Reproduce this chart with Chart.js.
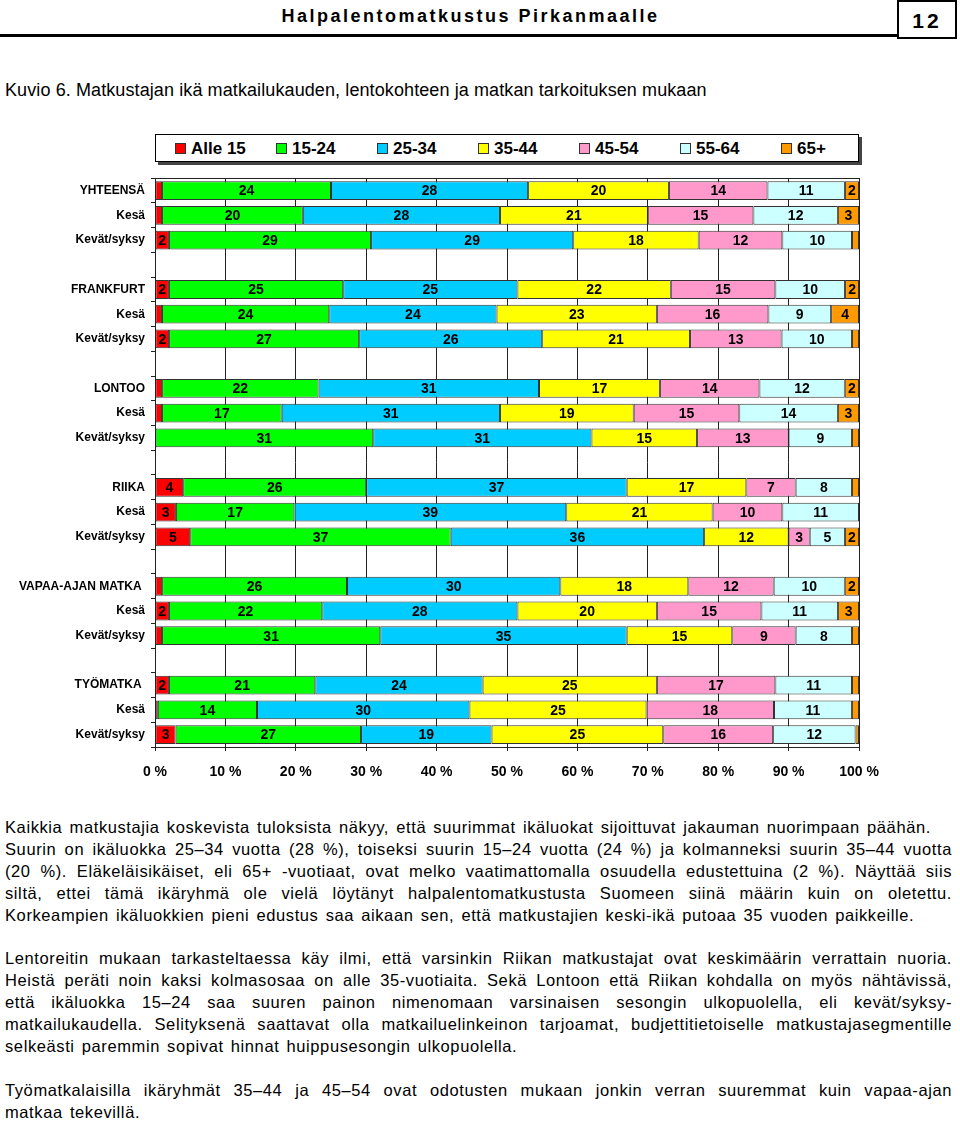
<!DOCTYPE html>
<html lang="fi">
<head>
<meta charset="utf-8">
<title>Kuvio 6</title>
<script src="https://cdn.jsdelivr.net/npm/chart.js@4/dist/chart.umd.min.js"></script>
<style>
  body { margin: 0; width: 960px; height: 1122px; position: relative; overflow: hidden;
         background: #fff; color: #000; font-family: "Liberation Sans", Arial, sans-serif; }
  .head { position: absolute; left: 0; top: 0; width: 853px; padding-left: 44px; height: 34px; border-bottom: 3px solid #000;
          text-align: center; font-weight: bold; font-size: 18px; letter-spacing: 2.5px; line-height: 32px; }
  .pageno { position: absolute; left: 897px; top: 0; width: 56px; height: 35px; border: 2px solid #000;
            text-align: center; font-weight: bold; font-size: 21px; letter-spacing: 3px; line-height: 38px; }
  .caption { position: absolute; left: 5px; top: 80px; font-size: 18px; letter-spacing: 0.1px; line-height: 20px; white-space: nowrap; }
  .legend { position: absolute; left: 155px; top: 134px; width: 702px; height: 26px; border: 1px solid #000;
            box-shadow: 3px 3px 0 #444; background: #fff; }
  .legend .item { position: absolute; top: 0; height: 26px; line-height: 27px; font-weight: bold; font-size: 17px; white-space: nowrap; }
  .legend .sw { display: inline-block; width: 9px; height: 9px; border: 1px solid #333; margin-right: 5px; vertical-align: 0px; }
  .chartbox { position: absolute; left: 0; top: 165px; width: 960px; height: 625px; }
  .text { position: absolute; left: 5px; top: 817px; width: 947px; font-size: 16.5px; line-height: 21.9px;
          letter-spacing: 0.6px; word-spacing: 2px; }
  .text div { white-space: nowrap; }
  .text .j { text-align: justify; text-align-last: justify; white-space: normal; }
</style>
</head>
<body>
<div class="head">Halpalentomatkustus Pirkanmaalle</div>
<div class="pageno">12</div>
<div class="caption">Kuvio 6. Matkustajan ikä matkailukauden, lentokohteen ja matkan tarkoituksen mukaan</div>
<div class="legend" id="legend"></div>
<div class="chartbox"><canvas id="chart"></canvas></div>
<div class="text">
  <div>Kaikkia matkustajia koskevista tuloksista näkyy, että suurimmat ikäluokat sijoittuvat jakauman nuorimpaan päähän.</div>
  <div class="j">Suurin on ikäluokka 25–34 vuotta (28 %), toiseksi suurin 15–24 vuotta (24 %) ja kolmanneksi suurin 35–44 vuotta</div>
  <div class="j">(20 %). Eläkeläisikäiset, eli 65+ -vuotiaat, ovat melko vaatimattomalla osuudella edustettuina (2 %). Näyttää siis</div>
  <div class="j">siltä, ettei tämä ikäryhmä ole vielä löytänyt halpalentomatkustusta Suomeen siinä määrin kuin on oletettu.</div>
  <div>Korkeampien ikäluokkien pieni edustus saa aikaan sen, että matkustajien keski-ikä putoaa 35 vuoden paikkeille.</div>
  <div>&nbsp;</div>
  <div class="j">Lentoreitin mukaan tarkasteltaessa käy ilmi, että varsinkin Riikan matkustajat ovat keskimäärin verrattain nuoria.</div>
  <div class="j">Heistä peräti noin kaksi kolmasosaa on alle 35-vuotiaita. Sekä Lontoon että Riikan kohdalla on myös nähtävissä,</div>
  <div class="j">että ikäluokka 15–24 saa suuren painon nimenomaan varsinaisen sesongin ulkopuolella, eli kevät/syksy-</div>
  <div class="j">matkailukaudella. Selityksenä saattavat olla matkailuelinkeinon tarjoamat, budjettitietoiselle matkustajasegmentille</div>
  <div>selkeästi paremmin sopivat hinnat huippusesongin ulkopuolella.</div>
  <div>&nbsp;</div>
  <div class="j">Työmatkalaisilla ikäryhmät 35–44 ja 45–54 ovat odotusten mukaan jonkin verran suuremmat kuin vapaa-ajan</div>
  <div>matkaa tekevillä.</div>
</div>
<script>
// ===== data =====
const ageGroups = ['Alle 15', '15-24', '25-34', '35-44', '45-54', '55-64', '65+'];
const ageColors = ['#FF0000', '#00FF00', '#00CCFF', '#FFFF00', '#FF99CC', '#CCFFFF', '#FF9900'];
const groups = ['YHTEENSÄ', 'FRANKFURT', 'LONTOO', 'RIIKA', 'VAPAA-AJAN MATKA ', 'TYÖMATKA '];
const seasons = ['Kesä', 'Kevät/syksy'];
const xTickLabels = ['0 %', '10 %', '20 %', '30 %', '40 %', '50 %', '60 %', '70 %', '80 %', '90 %', '100 %'];

// rows: group total, Kesä, Kevät/syksy — for each group in order
const alle15  = [1, 1, 2,    2, 1, 2,    1, 1, 0,    4, 3, 5,    1, 2, 1,    2, 0.4, 3];
const age1524 = [24, 20, 29, 25, 24, 27, 22, 17, 31, 26, 17, 37, 26, 22, 31, 21, 14, 27];
const age2534 = [28, 28, 29, 25, 24, 26, 31, 31, 31, 37, 39, 36, 30, 28, 35, 24, 30, 19];
const age3544 = [20, 21, 18, 22, 23, 21, 17, 19, 15, 17, 21, 12, 18, 20, 15, 25, 25, 25];
const age4554 = [14, 15, 12, 15, 16, 13, 14, 15, 13, 7, 10, 3,   12, 15, 9,  17, 18, 16];
const age5564 = [11, 12, 10, 10, 9, 10,  12, 14, 9,  8, 11, 5,   10, 11, 8,  11, 11, 12];
const age65   = [2, 3, 1,    2, 4, 1,    2, 3, 1,    1, 0, 2,    2, 3, 1,    1, 1, 0.5];

const series = [alle15, age1524, age2534, age3544, age4554, age5564, age65];

// category labels with an empty row between the groups
const labels = [];
const rowIndex = [];
groups.forEach((g, gi) => {
  if (gi > 0) { labels.push(''); rowIndex.push(null); }
  [g, ...seasons].forEach((name, k) => { labels.push(name); rowIndex.push(gi * 3 + k); });
});

const rowTotals = alle15.map((_, r) => series.reduce((acc, s) => acc + s[r], 0));

// ===== html legend =====
const legendEl = document.getElementById('legend');
ageGroups.forEach((name, i) => {
  const item = document.createElement('div');
  item.className = 'item';
  item.style.left = (19 + i * 101) + 'px';
  item.innerHTML = '<span class="sw" style="background:' + ageColors[i] + '"></span>' + name;
  legendEl.appendChild(item);
});

// ===== plugins =====
const barLabels = {
  id: 'barLabels',
  afterDatasetsDraw(chart) {
    const ctx = chart.ctx;
    ctx.save();
    ctx.font = 'bold 14px "Liberation Sans", Arial, sans-serif';
    ctx.fillStyle = '#000';
    ctx.textAlign = 'center';
    ctx.textBaseline = 'middle';
    chart.data.datasets.forEach((ds, i) => {
      chart.getDatasetMeta(i).data.forEach((bar, j) => {
        const v = ds.values[j];
        if (v == null || v < 2) return;
        ctx.fillText(String(v), (bar.x + bar.base) / 2, bar.y + 1);
      });
    });
    ctx.restore();
  }
};

const plotFrame = {
  id: 'plotFrame',
  afterDatasetsDraw(chart) {
    const a = chart.chartArea;
    const ctx = chart.ctx;
    ctx.save();
    ctx.strokeStyle = '#222';
    ctx.lineWidth = 1;
    ctx.strokeRect(Math.round(a.left) + 0.5, Math.round(a.top) + 0.5, Math.round(a.right - a.left), Math.round(a.bottom - a.top));
    ctx.restore();
  }
};

// ===== chart =====
new Chart(document.getElementById('chart'), {
  type: 'bar',
  data: {
    labels: labels,
    datasets: series.map((s, i) => ({
      label: ageGroups[i],
      values: rowIndex.map(r => r == null ? null : s[r]),
      data: rowIndex.map(r => r == null ? null : s[r] / rowTotals[r] * 100),
      backgroundColor: ageColors[i],
      borderColor: '#333',
      borderWidth: 1,
      borderSkipped: false,
      barPercentage: 0.76,
      categoryPercentage: 1
    }))
  },
  options: {
    indexAxis: 'y',
    responsive: true,
    maintainAspectRatio: false,
    animation: false,
    layout: { padding: { top: 9, right: 101, left: 0, bottom: 0 } },
    plugins: {
      legend: { display: false },
      tooltip: { enabled: false }
    },
    scales: {
      x: {
        stacked: true,
        min: 0,
        max: 100,
        afterFit(scale) { scale.height = 43; },
        ticks: {
          stepSize: 10,
          color: '#000',
          padding: 13,
          font: { family: '"Liberation Sans", Arial, sans-serif', size: 14, weight: 'bold' },
          callback: (v, i) => xTickLabels[i]
        },
        grid: { color: '#222', lineWidth: 1, tickLength: 4 },
        border: { display: true, color: '#222' }
      },
      y: {
        stacked: true,
        afterFit(scale) { scale.width = 155; },
        ticks: {
          color: '#000',
          padding: 6,
          autoSkip: false,
          font: { family: '"Liberation Sans", Arial, sans-serif', size: 12, weight: 'bold' }
        },
        grid: { drawOnChartArea: false, color: '#222', tickLength: 4, offset: true },
        border: { display: true, color: '#222' }
      }
    }
  },
  plugins: [barLabels, plotFrame]
});
</script>
</body>
</html>
